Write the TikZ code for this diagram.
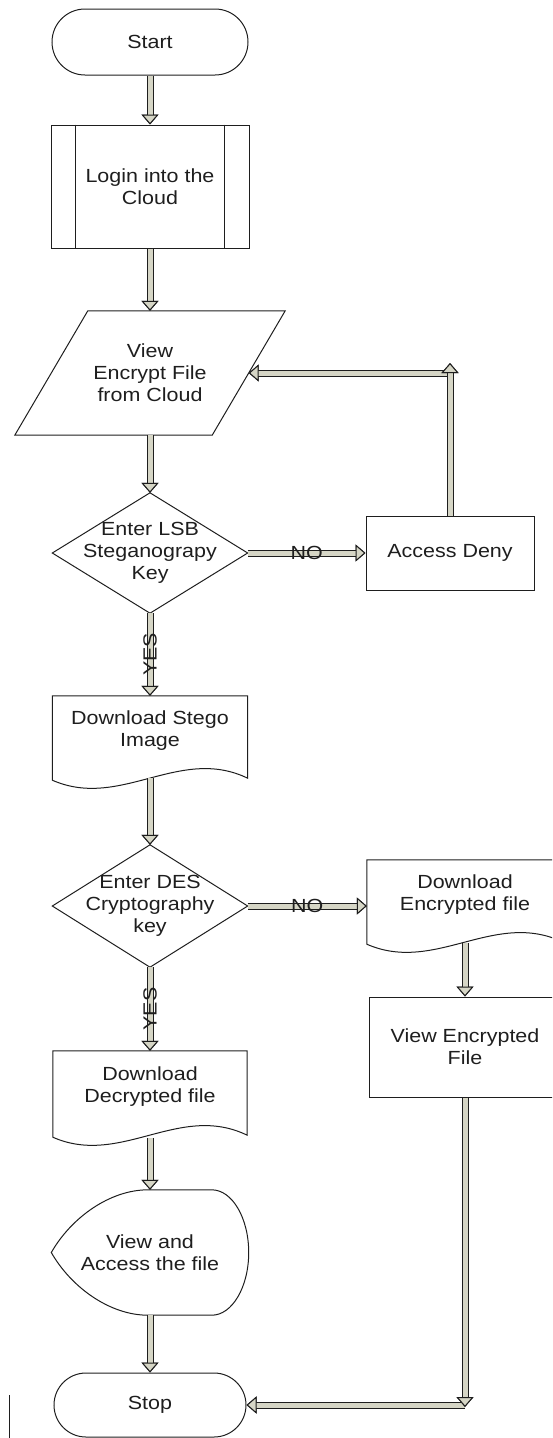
\documentclass[tikz,border=0pt]{standalone}
\usepackage{fontspec}
\setmainfont{Liberation Sans}[FakeStretch=1.13]
\usetikzlibrary{arrows.meta,calc}
\definecolor{arrowfill}{RGB}{214,214,198}
\definecolor{ink}{RGB}{30,30,30}
\tikzset{
  txt/.style={align=center, inner sep=0pt, font=\fontsize{19}{22}\selectfont, text=ink},
  box/.style={txt, draw=ink, line width=1pt},
  ghost/.style={txt},
  outline/.style={draw=ink, line width=1pt},
  flowtip/.tip={Triangle[width=17pt,length=10pt,line width=1pt,color=ink,fill=arrowfill]},
  flow/.style={draw=arrowfill, line width=5pt, -flowtip,
    preaction={draw=ink, line width=7pt, -flowtip}},
  lbl/.style={txt},
}
\newcommand{\docshape}[1]{%
  \draw[outline] (#1.north west) -- (#1.north east) -- ($(#1.south east)+(0,12)$)
   .. controls ($(#1.south west)!0.65!(#1.south east)+(0,-21)$) and ($(#1.south west)!0.35!(#1.south east)+(0,44)$)
   .. ($(#1.south west)+(0,14)$) -- cycle;}
\begin{document}
\begin{tikzpicture}[x=1pt,y=-1pt]
\useasboundingbox (0,0) rectangle (552,1438);
\clip (0,0) rectangle (552,1438);

% nodes
\node[box, rounded corners=33pt, minimum width=196pt, minimum height=66pt] (start) at (150,42) {Start};

\node[box, minimum width=198pt, minimum height=123pt] (login) at (150,186.5) {Login into the\\Cloud};
\draw[outline] ([xshift=25pt]login.north west) -- ([xshift=25pt]login.south west)
               ([xshift=-25pt]login.north east) -- ([xshift=-25pt]login.south east);

\node[ghost, minimum width=197pt, minimum height=124pt] (view) at (150,373) {View\\Encrypt File\\from Cloud};
\draw[outline] ([xshift=36.5pt]view.north west) -- ([xshift=36.5pt]view.north east)
   -- ([xshift=-36.5pt]view.south east) -- ([xshift=-36.5pt]view.south west) -- cycle;

\node[ghost, minimum width=195pt, minimum height=120pt] (d1) at (150,553) {Enter LSB\\Steganograpy\\Key};
\draw[outline] (d1.north) -- (d1.east) -- (d1.south) -- (d1.west) -- cycle;

\node[box, minimum width=168pt, minimum height=74pt] (deny) at (450,553) {Access Deny};

\node[ghost, minimum width=195pt, minimum height=70pt] (stego) at (150,731) {Download Stego\\Image};
\docshape{stego}

\node[ghost, minimum width=195pt, minimum height=122pt] (d2) at (150,906) {Enter DES\\Cryptography\\key};
\draw[outline] (d2.north) -- (d2.east) -- (d2.south) -- (d2.west) -- cycle;

\node[ghost, minimum width=196pt, minimum height=70pt] (dlenc) at (465,895) {Download\\Encrypted file};
\docshape{dlenc}

\node[box, minimum width=192pt, minimum height=100pt] (venc) at (465,1047) {View Encrypted\\File};

\node[ghost, minimum width=194pt, minimum height=72pt] (dldec) at (150,1087) {Download\\Decrypted file};
\docshape{dldec}

\node[ghost, minimum width=197pt, minimum height=125pt] (vacc) at (150,1252.5) {View and\\Access the file};
\draw[outline] ($(vacc.north)+(-2,0)$) -- ($(vacc.north east)+(-37,0)$)
   .. controls ($(vacc.north east)+(-16.5,0)$) and ($(vacc.east)+(0,-34.5)$) .. (vacc.east)
   .. controls ($(vacc.east)+(0,34.5)$) and ($(vacc.south east)+(-16.5,0)$) .. ($(vacc.south east)+(-37,0)$)
   -- ($(vacc.south)+(-2,0)$)
   .. controls ($(vacc.south)+(-40,0)$) and ($(vacc.west)+(20,35)$) .. (vacc.west)
   .. controls ($(vacc.west)+(20,-35)$) and ($(vacc.north)+(-40,0)$) .. cycle;

\node[box, rounded corners=32pt, minimum width=192pt, minimum height=64pt] (stop) at (150,1405) {Stop};

% connectors
\coordinate (fbtop) at (450,363);
\coordinate (fbcorner) at (450,373);
\coordinate (endcorner) at (465,1405);
\coordinate (enddown) at (465,1407);

\draw[flow] (start.south) -- (login.north);
\draw[flow] (login.south) -- (view.north);
\draw[flow] (view.south) -- (d1.north);
\draw[flow] (d1.east) -- node[lbl] (no1) {NO} (deny.west);
\draw[flow] (fbcorner) -- (view.east);
\draw[flow] (deny.north) -- (fbtop);
\draw[flow] (d1.south) -- node[lbl, rotate=90] (yes1) {YES} (stego.north);
\draw[flow] ([yshift=-12pt]stego.south) -- (d2.north);
\draw[flow] (d2.east) -- node[lbl] (no2) {NO} (d2.east -| dlenc.west);
\draw[flow] ([yshift=-13pt]dlenc.south) -- (venc.north);
\draw[flow] (endcorner) -- (stop.east);
\draw[flow] (venc.south) -- (enddown);
\draw[flow] (d2.south) -- node[lbl, rotate=90] (yes2) {YES} (dldec.north);
\draw[flow] ([yshift=-15pt]dldec.south) -- (vacc.north);
\draw[flow] (vacc.south) -- (stop.north);

% stray mark
\draw[ink, line width=1.2pt] (9.5,1395) -- (9.5,1438);
\end{tikzpicture}
\end{document}
